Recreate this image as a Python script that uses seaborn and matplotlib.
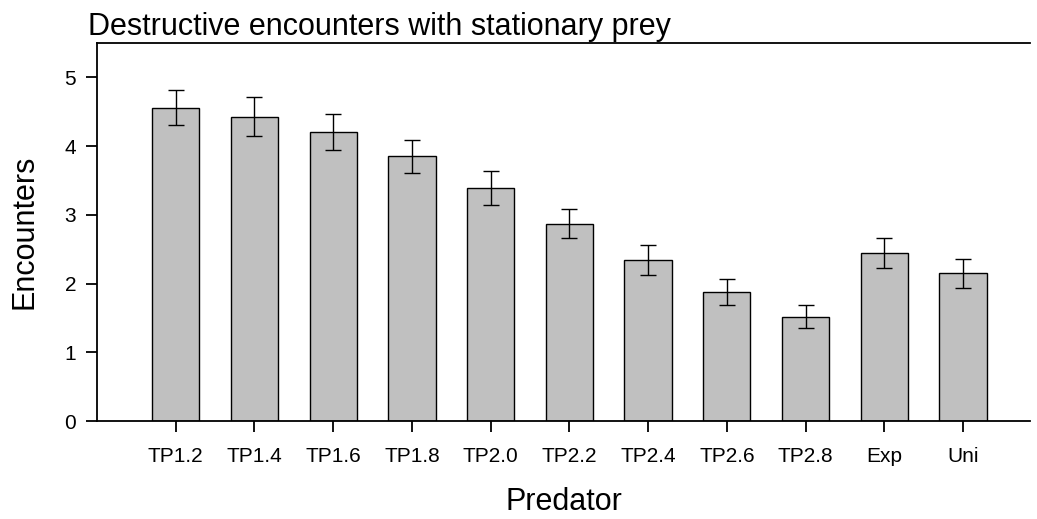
import matplotlib
matplotlib.use("Agg")
import matplotlib.pyplot as plt
import seaborn as sns
import pandas as pd

categories = ["TP1.2", "TP1.4", "TP1.6", "TP1.8", "TP2.0", "TP2.2", "TP2.4", "TP2.6", "TP2.8", "Exp", "Uni"]
encounters = [4.56, 4.43, 4.21, 3.85, 3.39, 2.87, 2.34, 1.88, 1.52, 2.45, 2.15]
errors = [0.25, 0.28, 0.26, 0.24, 0.25, 0.21, 0.22, 0.19, 0.17, 0.22, 0.21]
yticks = [0, 1, 2, 3, 4, 5]

sns.set_theme(style="white")
plt.rcParams["font.family"] = ["Liberation Sans", "DejaVu Sans"]

df = pd.DataFrame({"Predator": categories, "Encounters": encounters})

fig = plt.figure(figsize=(10.37, 5.19), dpi=100)
ax = fig.add_axes([0.0935, 0.1888, 0.8997, 0.7283])

sns.barplot(data=df, x="Predator", y="Encounters", order=categories, color="#C0C0C0",
            saturation=1, width=0.6, edgecolor="black", linewidth=1.0, errorbar=None, ax=ax)
ax.errorbar(range(len(categories)), encounters, yerr=errors, fmt="none", ecolor="black",
            elinewidth=1.0, capsize=5.8, capthick=1.0, zorder=3)

ax.set_xlim(-1.0, 10.85)
ax.set_ylim(0, 5.5)
ax.set_yticks(yticks)
ax.set_yticklabels([str(t) for t in yticks])

for side in ["left", "bottom", "top"]:
    ax.spines[side].set_visible(True)
    ax.spines[side].set_color("black")
    ax.spines[side].set_linewidth(1.3)
ax.spines["right"].set_visible(False)

ax.tick_params(axis="both", which="both", direction="out", length=8, width=1.3,
               color="black", labelsize=15, labelcolor="black", pad=7)
ax.tick_params(axis="x", pad=11)
ax.tick_params(left=True, bottom=True)

ax.set_xlabel("Predator", fontsize=22, labelpad=15, color="black")
ax.set_ylabel("Encounters", fontsize=22, labelpad=18, color="black")

fig.text(88 / 1037, 1 - 35 / 519, "Destructive encounters with stationary prey",
         fontsize=22, ha="left", va="baseline", color="black")

fig.savefig("out.png", dpi=100, facecolor="white")
